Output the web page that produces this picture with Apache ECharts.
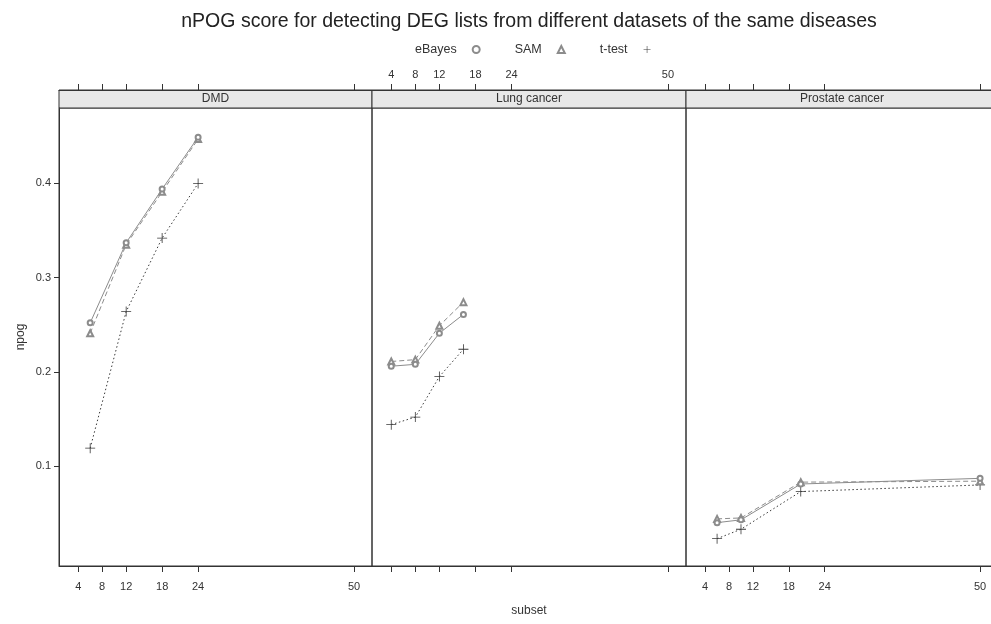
<!DOCTYPE html>
<html>
<head>
<meta charset="utf-8">
<script src="https://cdn.jsdelivr.net/npm/echarts@6/dist/echarts.min.js"></script>
<style>
  html, body { margin: 0; padding: 0; background: #fff; }
  #main { width: 991px; height: 624px; }
</style>
</head>
<body>
<div id="main"></div>
<script>
  // panels
  var panelNames = ['DMD', 'Lung cancer', 'Prostate cancer']
  var methodNames = ['eBayes', 'SAM', 't-test']

  // subset sizes per panel
  var dmdX = [6, 12, 18, 24]
  var lungX = [4, 8, 12, 16]
  var prostateX = [6, 10, 20, 50]

  // npog values
  var dmdEBayes = [0.252, 0.337, 0.394, 0.449]
  var dmdSAM = [0.241, 0.335, 0.391, 0.447]
  var dmdTtest = [0.119, 0.264, 0.342, 0.400]

  var lungEBayes = [0.206, 0.208, 0.241, 0.261]
  var lungSAM = [0.211, 0.213, 0.249, 0.274]
  var lungTtest = [0.144, 0.152, 0.195, 0.224]

  var prostateEBayes = [0.040, 0.043, 0.081, 0.087]
  var prostateSAM = [0.044, 0.045, 0.083, 0.084]
  var prostateTtest = [0.023, 0.033, 0.073, 0.080]

  // axis ticks
  var xTicks = [4, 8, 12, 18, 24, 50]
  var yTicks = [0.1, 0.2, 0.3, 0.4]

  var panelX = [dmdX, lungX, prostateX]
  var panelData = [
    [dmdEBayes, dmdSAM, dmdTtest],
    [lungEBayes, lungSAM, lungTtest],
    [prostateEBayes, prostateSAM, prostateTtest]
  ]

  var font = 'Liberation Sans, Arial, sans-serif'
  var plusPath = 'path://M4.6,0h0.8v4.6h4.6v0.8h-4.6v4.6h-0.8v-4.6h-4.6v-0.8h4.6z'
  var methodStyle = [
    {symbol: 'emptyCircle', size: 5, color: '#8c8c8c', type: 'solid'},
    {symbol: 'emptyTriangle', size: 6, color: '#8c8c8c', type: [5, 3]},
    {symbol: plusPath, size: 10, color: '#3a3a3a', type: [1.5, 2.5]}
  ]

  var panelLeft = [59, 372, 686]
  var panelWidth = [313, 314, 312]
  var gridTop = 108
  var gridHeight = 458

  var grids = []
  var xAxes = []
  var yAxes = []
  var series = []
  var graphics = []

  for (let p = 0; p < 3; p++) {
    grids.push({
      left: panelLeft[p], top: gridTop, width: panelWidth[p], height: gridHeight,
      outerBoundsMode: 'none',
      show: true, borderColor: '#333', borderWidth: 1, backgroundColor: 'transparent'
    })

    // bottom axis
    xAxes.push({
      type: 'value', gridIndex: p, position: 'bottom', min: 0.8, max: 53,
      name: p === 1 ? 'subset' : '', nameLocation: 'middle', nameGap: 39,
      nameTextStyle: {fontFamily: font, fontSize: 12, color: '#333'},
      axisLine: {show: true, onZero: false, lineStyle: {color: '#333'}},
      axisTick: {show: true, length: 6, customValues: xTicks, lineStyle: {color: '#333'}},
      axisLabel: {show: p !== 1, customValues: xTicks, margin: 15, fontFamily: font, fontSize: 11, color: '#333'},
      splitLine: {show: false}
    })
    // top axis above strip
    xAxes.push({
      type: 'value', gridIndex: p, position: 'top', offset: 18, min: 0.8, max: 53,
      axisLine: {show: true, onZero: false, lineStyle: {color: '#333'}},
      axisTick: {show: true, length: 6, customValues: xTicks, lineStyle: {color: '#333'}},
      axisLabel: {show: p === 1, customValues: xTicks, margin: 10, fontFamily: font, fontSize: 11, color: '#333'},
      splitLine: {show: false}
    })

    yAxes.push({
      type: 'value', gridIndex: p, min: -0.006, max: 0.48,
      name: p === 0 ? 'npog' : '', nameLocation: 'middle', nameGap: 32,
      nameTextStyle: {fontFamily: font, fontSize: 12, color: '#333'},
      axisLine: {show: p === 0, onZero: false, lineStyle: {color: '#333'}},
      axisTick: {show: p === 0, length: 5, customValues: yTicks, lineStyle: {color: '#333'}},
      axisLabel: {show: p === 0, customValues: yTicks, margin: 8, fontFamily: font, fontSize: 11, color: '#333'},
      splitLine: {show: false}
    })

    for (let m = 0; m < 3; m++) {
      let st = methodStyle[m]
      series.push({
        name: methodNames[m],
        type: 'line',
        xAxisIndex: p * 2,
        yAxisIndex: p,
        data: panelX[p].map(function (x, i) { return [x, panelData[p][m][i]] }),
        symbol: st.symbol,
        symbolSize: st.size,
        showAllSymbol: true,
        itemStyle: {color: st.color, borderWidth: 1},
        lineStyle: {color: st.color, width: 1, type: st.type},
        emphasis: {disabled: true},
        z: 3 - m
      })
    }

    // strip
    graphics.push({
      type: 'rect',
      shape: {x: panelLeft[p], y: 90, width: panelWidth[p], height: 18},
      style: {fill: '#e8e8e8', stroke: '#333', lineWidth: 1}
    })
    graphics.push({
      type: 'text',
      x: panelLeft[p] + panelWidth[p] / 2, y: 99,
      style: {text: panelNames[p], fontFamily: font, fontSize: 12, fill: '#333', align: 'center', verticalAlign: 'middle'}
    })
  }

  var chart = echarts.init(document.getElementById('main'))
  chart.setOption({
    animation: false,
    backgroundColor: '#fff',
    title: {
      text: 'nPOG score for detecting DEG lists from different datasets of the same diseases',
      left: 524, top: 7, textAlign: 'center',
      textStyle: {fontFamily: font, fontSize: 19.5, fontWeight: 'normal', color: '#222'}
    },
    legend: {
      left: 410, top: 38, align: 'right', itemGap: 34, itemWidth: 7, itemHeight: 7,
      textStyle: {fontFamily: font, fontSize: 12.5, color: '#333', padding: [0, 11, 0, 0]},
      data: [
        {name: 'eBayes', icon: 'emptyCircle', itemStyle: {color: '#8c8c8c', borderWidth: 1}},
        {name: 'SAM', icon: 'emptyTriangle', itemStyle: {color: '#8c8c8c', borderWidth: 1}},
        {name: 't-test', icon: plusPath, itemStyle: {color: '#3a3a3a'}}
      ],
      selectedMode: false
    },
    grid: grids,
    xAxis: xAxes,
    yAxis: yAxes,
    series: series,
    graphic: graphics
  })
</script>
</body>
</html>
